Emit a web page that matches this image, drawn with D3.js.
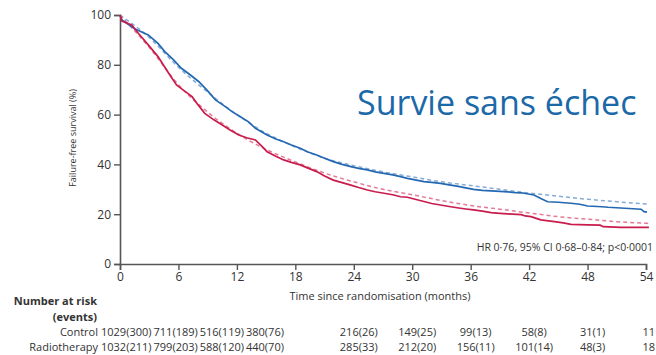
<!DOCTYPE html>
<html>
<head>
<meta charset="utf-8">
<title></title>
<style>
  body { margin: 0; background: #fff; }
  text { font-family: "Open Sans", sans-serif; fill: #333; }
</style>
</head>
<body>
<svg id="chart" width="656" height="355"></svg>
<script src="https://cdn.jsdelivr.net/npm/d3@7"></script>
<script>
// courbes de Kaplan-Meier (mois, %)
var controlKM = [[0,100],[0.2,98],[1.5,94.5],[2.9,92],[3.9,88.6],[4.6,85.3],[5.5,82],[6.3,78.6],[7.2,76],[8.1,73.2],
  [9,69.5],[9.8,65.9],[10.7,63.5],[11.5,61.2],[12.4,59],[13.2,57.1],[13.9,54.5],[15.1,51.8],[16,50.2],[16.8,49.1],
  [17.6,47.8],[18.5,46.5],[19.3,45],[20.2,43.8],[21,42.5],[21.9,41.1],[22.8,40],[23.7,39.1],[24.5,38.4],[25.4,37.8],
  [26.2,37],[27.1,36.4],[28,35.8],[28.8,35.1],[29.5,34.4],[30.3,33.8],[31.2,33.1],[32,32.8],[32.9,32.4],[33.8,31.8],
  [34.6,31.3],[35.5,30.6],[36.3,30],[37.2,29.6],[38.1,29.4],[39,29.2],[39.8,29],[40.6,28.7],[41.2,28.6],[42.5,27.7],
  [43.2,26.3],[43.9,25],[45,24.8],[46.3,24.4],[47.2,24],[48,23.3],[49.5,23],[50.1,22.8],[51.4,22.5],[53.5,22],
  [53.8,21],[54.1,20.8]];
var radioKM = [[0,100],[0.2,97.5],[1.2,96],[1.9,92.6],[2.9,88],[3.9,83.3],[5,76.6],[5.8,71.9],[6.6,69.5],[7.4,67.2],
  [8,64],[8.7,60.5],[9.6,58],[10.5,55.8],[11.3,53.8],[12.2,51.8],[13,50.7],[13.9,49.8],[14.5,47.5],[15.1,45.1],
  [16,43.3],[16.8,41.8],[17.6,40.8],[18.5,39.8],[19.3,38.5],[20.2,37.1],[21,35.3],[21.9,33.7],[22.8,32.7],[23.7,31.7],
  [24.5,30.7],[25.4,29.7],[26.2,29],[27.1,28.4],[28,27.8],[28.8,27],[29.5,26.8],[30.3,26],[31.2,25.1],[32,24.3],
  [32.9,23.7],[33.8,23.1],[34.6,22.6],[35.5,22.1],[36.3,21.7],[37.2,21.2],[38.1,20.6],[39,20.3],[39.8,20.1],[41.2,19.8],
  [41.6,19.3],[42.2,19],[43.2,17.7],[44.6,17],[45.5,16.5],[46.3,15.9],[48,15.7],[49.3,15.6],[49.6,15],[51.4,14.7],
  [54.3,14.7]];
// courbes du modèle (pointillés)
var controlFit = [[0,100],[3,91],[6,79],[9,69],[12,60],[15,52.5],[18,47],[21,42.5],[24,39.5],[27,37],[30,35],
  [33,33],[36,31.5],[39,30],[42,28.5],[45,27.2],[48,26],[51,25],[54.3,24]];
var radioFit = [[0,100],[3,87],[6,72],[9,61],[12,52.5],[15,46],[18,41],[21,36.5],[24,33],[27,30],[30,27.8],
  [33,25.5],[36,23.5],[39,22],[42,20.5],[45,19],[48,18],[51,17],[54.3,16.3]];

var xTicks = [0, 6, 12, 18, 24, 30, 36, 42, 48, 54];
var yTicks = [0, 20, 40, 60, 80, 100];

// nombre à risque (événements)
var riskGroups = ["Control", "Radiotherapy"];
var controlAtRisk = [1029, 711, 516, 380, 216, 149, 99, 58, 31, 11];
var controlEvents = [300, 189, 119, 76, 26, 25, 13, 8, 1];
var radioAtRisk = [1032, 799, 588, 440, 285, 212, 156, 101, 48, 18];
var radioEvents = [211, 203, 120, 70, 33, 20, 11, 14, 3];

var blue = "#2468b2", red = "#c81c4c";
var blueLight = "#86abd9", redLight = "#e47a96";

var svg = d3.select("#chart");
var x = d3.scaleLinear().domain([0, 54]).range([120, 646]);
var y = d3.scaleLinear().domain([0, 100]).range([264, 15]);

// axes
var yAxis = svg.append("g").attr("transform", "translate(120,0)")
    .call(d3.axisLeft(y).tickValues(yTicks).tickSize(6).tickPadding(3));
var xAxis = svg.append("g").attr("transform", "translate(0,264)")
    .call(d3.axisBottom(x).tickValues(xTicks).tickSize(6).tickPadding(2));
[xAxis, yAxis].forEach(function(a) {
  a.select(".domain").attr("stroke", "#555").attr("stroke-width", 1.6);
  a.selectAll(".tick line").attr("stroke", "#555").attr("stroke-width", 1.4);
  a.selectAll(".tick text").attr("font-size", 12).attr("font-family", "Open Sans").attr("fill", "#444");
});

var line = d3.line().x(function(d) { return x(d[0]); }).y(function(d) { return y(d[1]); });
var smooth = d3.line().curve(d3.curveMonotoneX).x(function(d) { return x(d[0]); }).y(function(d) { return y(d[1]); });

svg.append("path").datum(controlFit).attr("d", smooth).attr("fill", "none")
  .attr("stroke", blueLight).attr("stroke-width", 1.5).attr("stroke-dasharray", "4,3");
svg.append("path").datum(radioFit).attr("d", smooth).attr("fill", "none")
  .attr("stroke", redLight).attr("stroke-width", 1.5).attr("stroke-dasharray", "4,3");
svg.append("path").datum(controlKM).attr("d", line).attr("fill", "none")
  .attr("stroke", blue).attr("stroke-width", 1.7);
svg.append("path").datum(radioKM).attr("d", line).attr("fill", "none")
  .attr("stroke", red).attr("stroke-width", 1.7);

// titres
svg.append("text").attr("transform", "translate(76,138) rotate(-90)")
  .attr("text-anchor", "middle").attr("font-size", 9).text("Failure-free survival (%)");
svg.append("text").attr("x", 380).attr("y", 296).attr("dy", "0.35em")
  .attr("text-anchor", "middle").attr("font-size", 11).text("Time since randomisation (months)");
svg.append("text").attr("x", 653).attr("y", 247).attr("dy", "0.35em")
  .attr("text-anchor", "end").attr("font-size", 10.5).text("HR 0·76, 95% CI 0·68–0·84; p<0·0001");
svg.append("text").attr("x", 357).attr("y", 115)
  .attr("font-size", 34).style("fill", "#1c69a8").text("Survie sans échec");

// tableau des effectifs
svg.append("text").attr("x", 97).attr("y", 301).attr("dy", "0.35em").attr("text-anchor", "end")
  .attr("font-size", 11).attr("font-weight", "bold").text("Number at risk");
svg.append("text").attr("x", 97).attr("y", 317).attr("dy", "0.35em").attr("text-anchor", "end")
  .attr("font-size", 11).attr("font-weight", "bold").text("(events)");

var rows = [
  { name: riskGroups[0], n: controlAtRisk, ev: controlEvents, y: 332 },
  { name: riskGroups[1], n: radioAtRisk, ev: radioEvents, y: 347 }
];
var packedCols = 4; // les premières colonnes sont serrées les unes contre les autres
rows.forEach(function(r) {
  svg.append("text").attr("x", 98).attr("y", r.y).attr("dy", "0.35em").attr("text-anchor", "end")
    .attr("font-size", 11).text(r.name);
  var prevEnd = 99;
  r.n.forEach(function(v, i) {
    var label = i < r.ev.length ? v + "(" + r.ev[i] + ")" : "" + v;
    var t = svg.append("text").attr("y", r.y).attr("dy", "0.35em").attr("font-size", 11).text(label);
    var w = t.node().getComputedTextLength();
    var start = i < packedCols ? prevEnd + 2 : Math.min(x(xTicks[i]) + 5 - w / 2, 655 - w);
    t.attr("x", start);
    prevEnd = start + w;
  });
});
</script>
</body>
</html>
